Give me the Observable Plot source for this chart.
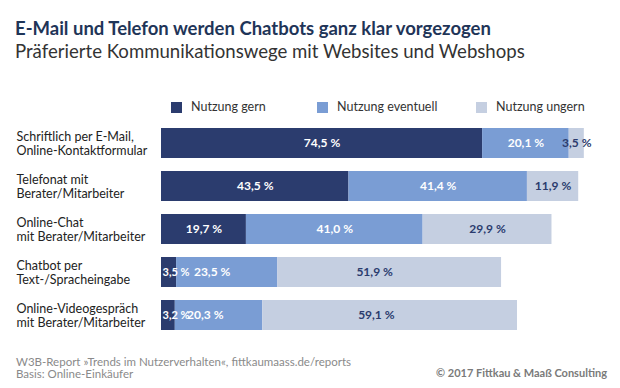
<!DOCTYPE html>
<html>
<head>
<meta charset="utf-8">
<script src="https://cdn.jsdelivr.net/npm/d3@7"></script>
<script src="https://cdn.jsdelivr.net/npm/@observablehq/plot@0.6"></script>
<style>
  html, body { margin: 0; padding: 0; background: #fff; }
  #wrap { position: relative; width: 620px; height: 388px; overflow: hidden; font-family: Lato, "Noto Sans", sans-serif; }
  .title { position: absolute; left: 15px; top: 17px; font-size: 18.5px; font-weight: bold; color: #1f3558; white-space: nowrap; }
  .subtitle { position: absolute; left: 15px; top: 40px; font-size: 18.6px; color: #333; white-space: nowrap; }
  .leg { position: absolute; top: 100px; font-size: 12.5px; color: #333; white-space: nowrap; line-height: 14px; }
  .sw { position: absolute; width: 11px; height: 11px; top: 102px; }
  .foot { position: absolute; left: 16px; font-size: 11.5px; color: #8a8a8a; white-space: nowrap; }
  .copy { position: absolute; right: 13px; top: 366px; font-size: 11px; font-weight: bold; color: #7a7a7a; white-space: nowrap; }
  #chart { position: absolute; left: 0; top: 100px; }
</style>
</head>
<body>
<div id="wrap">
  <div class="title">E-Mail und Telefon werden Chatbots ganz klar vorgezogen</div>
  <div class="subtitle">Präferierte Kommunikationswege mit Websites und Webshops</div>
  <div id="legend"></div>
  <div id="chart"></div>
  <div class="foot" style="top:355px">W3B-Report »Trends im Nutzerverhalten«, fittkaumaass.de/reports</div>
  <div class="foot" style="top:367px">Basis: Online-Einkäufer</div>
  <div class="copy">© 2017 Fittkau &amp; Maaß Consulting</div>
</div>
<script>
const categories = [
  "Schriftlich per E-Mail,\nOnline-Kontaktformular",
  "Telefonat mit\nBerater/Mitarbeiter",
  "Online-Chat\nmit Berater/Mitarbeiter",
  "Chatbot per\nText-/Spracheingabe",
  "Online-Videogespräch\nmit Berater/Mitarbeiter"
];
const seriesNames = ["Nutzung gern", "Nutzung eventuell", "Nutzung ungern"];
const gern = [74.5, 43.5, 19.7, 3.5, 3.2];
const eventuell = [20.1, 41.4, 41.0, 23.5, 20.3];
const ungern = [3.5, 11.9, 29.9, 51.9, 59.1];

const colors = ["#2b3c6e", "#7a9dd4", "#c5cfe1"];
const labelColors = ["#ffffff", "#ffffff", "#2b3c6e"];

const seriesValues = [gern, eventuell, ungern];
const data = [];
seriesNames.forEach((s, si) => {
  categories.forEach((c, ci) => {
    data.push({cat: c, series: s, value: seriesValues[si][ci], si});
  });
});
const fmt = v => v.toFixed(1).replace(".", ",") + " %";

// legend
const legX = [171, 317, 476];
const legend = document.getElementById("legend");
seriesNames.forEach((s, i) => {
  const sw = document.createElement("div");
  sw.className = "sw";
  sw.style.left = legX[i] + "px";
  sw.style.background = colors[i];
  legend.appendChild(sw);
  const t = document.createElement("div");
  t.className = "leg";
  t.style.left = (legX[i] + 20) + "px";
  t.textContent = s;
  legend.appendChild(t);
});

const H = 250;
const stackOpts = {x: "value", y: "cat", z: "series", order: null};
const isSmall = d => d.si === 0 && d.value < 5;

const chart = Plot.plot({
  width: 620,
  height: H,
  marginLeft: 161,
  marginRight: 28,
  marginTop: 21.5,
  marginBottom: 13,
  x: {domain: [0, 100], axis: null},
  y: {domain: categories, axis: null, paddingInner: 0.3, paddingOuter: 0.15},
  color: {domain: seriesNames, range: colors},
  style: {fontFamily: "Lato, 'Noto Sans', sans-serif", background: "transparent"},
  marks: [
    Plot.barX(data, Plot.stackX({...stackOpts, fill: "series"})),
    Plot.text(data, Plot.stackX({
      ...stackOpts,
      filter: d => !isSmall(d),
      text: d => fmt(d.value),
      fill: d => labelColors[d.si],
      fontSize: 12,
      fontWeight: "bold"
    })),
    Plot.text(data.filter(isSmall), {
      x: 0,
      y: "cat",
      text: d => fmt(d.value),
      fill: "#ffffff",
      textAnchor: "start",
      dx: 1,
      fontSize: 11,
      fontWeight: "bold"
    }),
    Plot.text(categories, {
      y: d => d,
      text: d => d,
      frameAnchor: "left",
      textAnchor: "start",
      dx: -145,
      fontSize: 12.5,
      lineHeight: 1.12,
      fill: "#222"
    })
  ]
});
document.getElementById("chart").appendChild(chart);
</script>
</body>
</html>
